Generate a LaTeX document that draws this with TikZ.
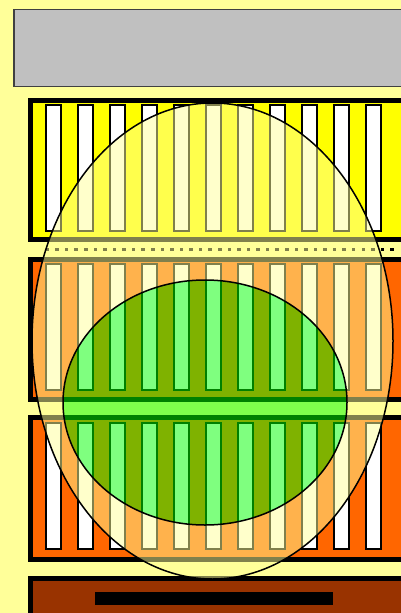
\documentclass[tikz,border=0pt]{standalone}
\definecolor{bgyel}{HTML}{FFFF99}
\definecolor{panyel}{HTML}{FFFF00}
\definecolor{panor}{HTML}{FF6600}
\definecolor{panbr}{HTML}{993300}
\definecolor{boxgray}{HTML}{C0C0C0}
\begin{document}
\begin{tikzpicture}[x=1pt,y=-1pt,
  panel/.style={line width=5pt, draw=black},
  barbox/.style={fill=white, draw=black, line width=1.2pt},
  rim/.style={draw=black, line width=1.5pt}]
\useasboundingbox (0,0) rectangle (401,613);
\clip (0,0) rectangle (401,613);
\fill[bgyel] (0,0) rectangle (401,613);
% gray header
\draw[fill=boxgray, draw=black!75, line width=1.3pt] (14,9.5) rectangle (430,86.5);
% yellow panel
\draw[panel, fill=panyel] (30.5,100.5) rectangle (430,239.5);
\foreach \k in {0,...,10} {\draw[barbox] ({46+32*\k},105) rectangle ({61+32*\k},231);}
% dots
\foreach \k in {0,...,36} {\fill[black] ({47.5+9.57*\k-1.75},247.5) rectangle ++(3.5,3.5);}
% orange panel 1
\draw[panel, fill=panor] (30.5,259.5) rectangle (430,399.5);
\foreach \k in {0,...,10} {\draw[barbox] ({46+32*\k},264) rectangle ({61+32*\k},390);}
% orange panel 2
\draw[panel, fill=panor] (30.5,417.5) rectangle (430,559.5);
\foreach \k in {0,...,10} {\draw[barbox] ({46+32*\k},423) rectangle ({61+32*\k},549);}
% brown panel
\draw[panel, fill=panbr] (30.5,578.5) rectangle (430,640);
\fill[black] (95,592) rectangle (333,605);
% ellipses
\fill[bgyel, fill opacity=0.5, even odd rule]
  (212.5,341) ellipse [x radius=180.5, y radius=238]
  (205,402.5) ellipse [x radius=142, y radius=122.5];
\fill[green, fill opacity=0.5] (205,402.5) ellipse [x radius=142, y radius=122.5];
\draw[rim] (212.5,341) ellipse [x radius=180.5, y radius=238];
\draw[rim] (205,402.5) ellipse [x radius=142, y radius=122.5];
\end{tikzpicture}
\end{document}
